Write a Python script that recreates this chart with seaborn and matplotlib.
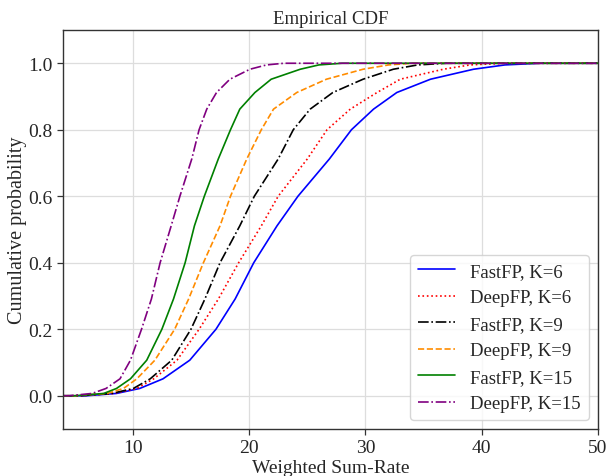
import matplotlib
matplotlib.use("Agg")
import matplotlib.pyplot as plt
import seaborn as sns
import numpy as np
import pandas as pd

# Cumulative probability levels and the x (Weighted Sum-Rate) reached by each curve
levels = [0.0, 0.0, 0.007, 0.022, 0.051, 0.107, 0.2, 0.291, 0.4, 0.511, 0.6,
          0.712, 0.8, 0.862, 0.912, 0.952, 0.982, 0.995, 1.0, 1.0]

fastfp_k6  = [4.0, 6.0, 8.6, 10.6, 12.6, 14.9, 17.15, 18.8, 20.4, 22.4, 24.2,
              26.9, 28.8, 30.7, 32.7, 35.6, 39.3, 42.0, 45.0, 50.0]
deepfp_k6  = [4.0, 5.5, 8.3, 10.35, 11.8, 13.8, 15.7, 17.36, 19.1, 21.05, 22.5,
              25.0, 26.7, 28.7, 31.0, 33.0, 36.7, 39.0, 42.0, 50.0]
fastfp_k9  = [4.0, 5.5, 8.2, 10.05, 11.5, 13.35, 15.0, 16.2, 17.5, 19.2, 20.45,
              22.5, 23.8, 25.25, 27.2, 29.8, 32.4, 34.5, 37.0, 50.0]
deepfp_k9  = [4.0, 5.0, 7.8, 9.2, 10.35, 11.9, 13.6, 14.8, 16.07, 17.5, 18.4,
              19.8, 21.05, 22.1, 24.1, 26.65, 29.8, 32.0, 34.0, 50.0]
fastfp_k15 = [4.0, 5.0, 7.5, 8.6, 9.8, 11.2, 12.5, 13.5, 14.5, 15.3, 16.15,
              17.35, 18.4, 19.2, 20.5, 21.9, 24.4, 26.0, 28.0, 50.0]
deepfp_k15 = [4.0, 4.5, 6.5, 7.7, 8.9, 9.8, 10.75, 11.6, 12.35, 13.3, 14.05,
              15.07, 15.7, 16.36, 17.2, 18.35, 20.07, 21.5, 23.0, 50.0]

labels = ["FastFP, K=6", "DeepFP, K=6", "FastFP, K=9",
          "DeepFP, K=9", "FastFP, K=15", "DeepFP, K=15"]
series = [fastfp_k6, deepfp_k6, fastfp_k9, deepfp_k9, fastfp_k15, deepfp_k15]
colors = ["blue", "red", "black", "darkorange", "green", "purple"]
styles = ["-", ":", "-.", "--", "-", "-."]

sns.set_style("white")
plt.rcParams["font.family"] = ["Liberation Serif", "DejaVu Serif"]
plt.rcParams["mathtext.fontset"] = "stix"

fig = plt.figure(figsize=(6.10, 4.77), dpi=100)
ax = fig.add_axes([0.1033, 0.0985, 0.877, 0.8365])

for xs, lab, col, ls in zip(series, labels, colors, styles):
    df = pd.DataFrame({"x": xs, "y": levels})
    sns.lineplot(data=df, x="x", y="y", ax=ax, color=col, linestyle=ls,
                 linewidth=1.2, label=lab, sort=False, estimator=None)

ax.set_xlim(4, 50)
ax.set_ylim(-0.1, 1.1)
ax.set_xticks([10, 20, 30, 40, 50])
ax.set_yticks([0.0, 0.2, 0.4, 0.6, 0.8, 1.0])
ax.set_yticklabels(["0.0", "0.2", "0.4", "0.6", "0.8", "1.0"])
ax.grid(True, color="#dddddd", linewidth=0.9)
ax.set_axisbelow(True)
for s in ax.spines.values():
    s.set_color("#333333")
    s.set_linewidth(1.0)
ax.tick_params(axis="both", which="major", labelsize=14, direction="out",
               length=4, width=0.9, color="#333333", bottom=True, left=True)
ax.set_xlabel("Weighted Sum-Rate", fontsize=14, labelpad=2)
ax.set_ylabel("Cumulative probability", fontsize=14.5, labelpad=1)
ax.set_title("Empirical CDF", fontsize=13.5, pad=5)
leg = ax.legend(loc="lower right", fontsize=13.5, frameon=True, fancybox=True,
                framealpha=0.8, edgecolor="#cccccc")

fig.savefig("out.png", dpi=100)
